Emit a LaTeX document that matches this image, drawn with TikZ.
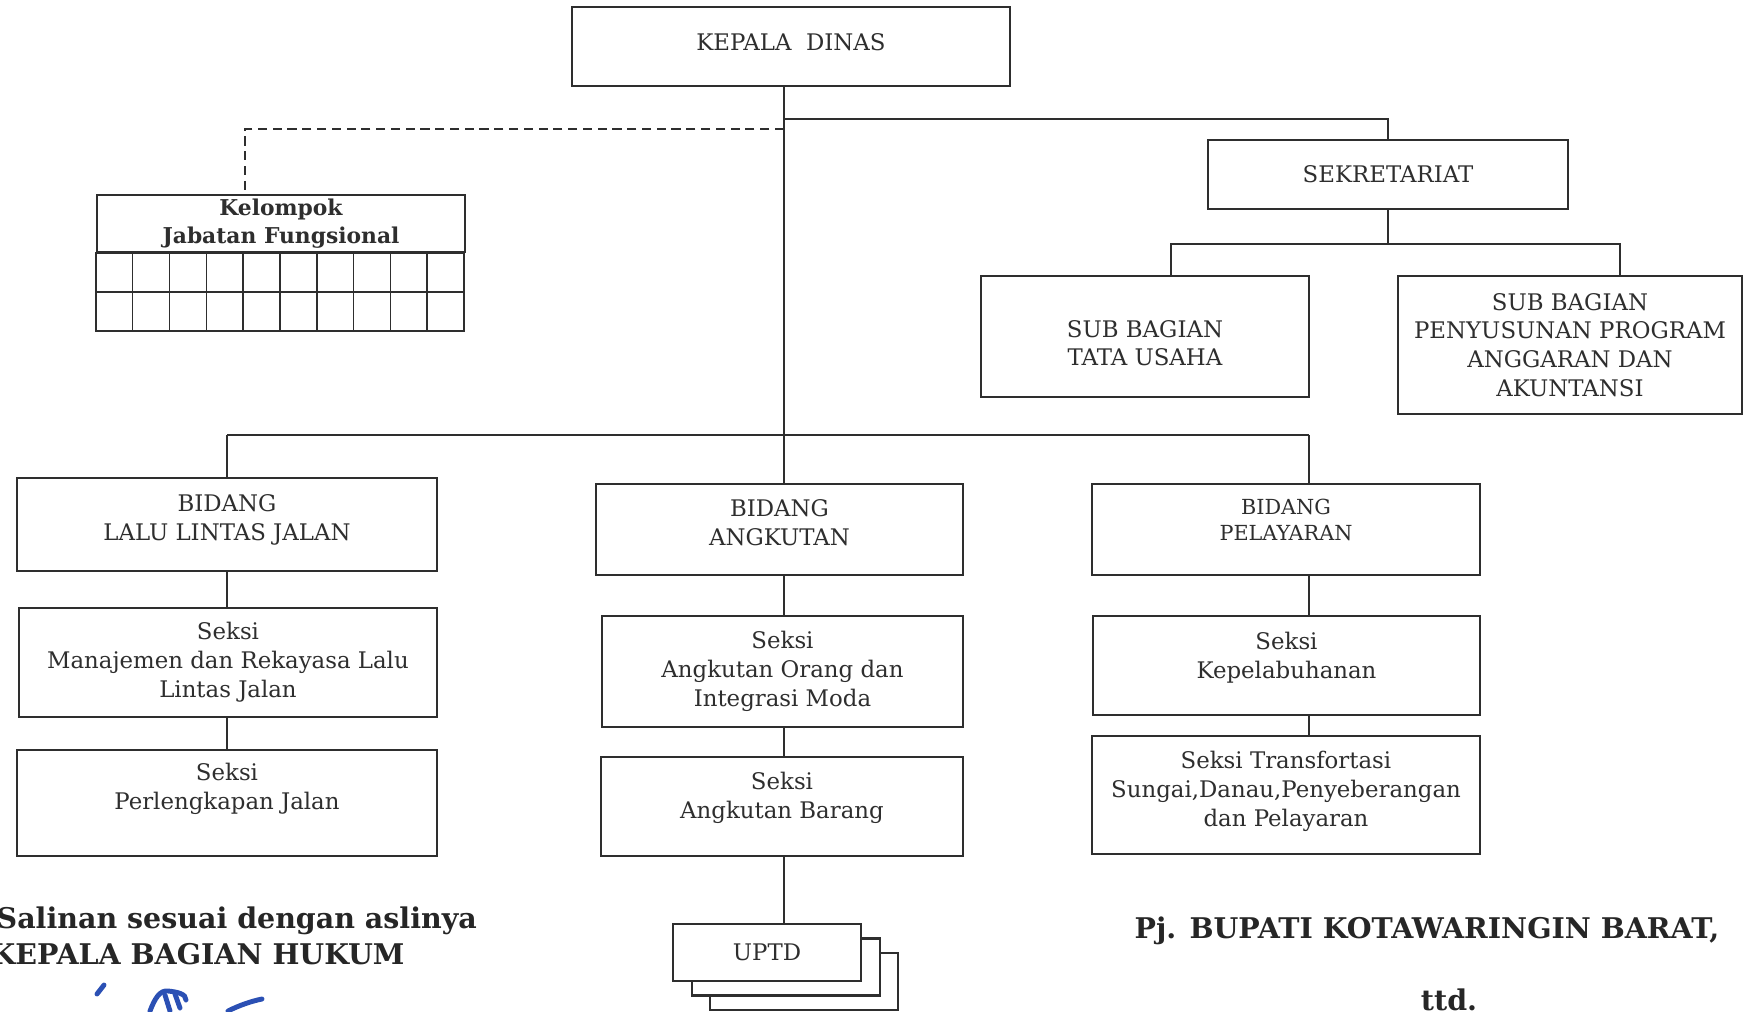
\documentclass[tikz,border=0pt]{standalone}
\usepackage{fontspec}
\setmainfont{DejaVu Serif}
\usepackage{tikz}
\usetikzlibrary{positioning, calc}
\definecolor{inkgray}{HTML}{2E2E2E}
\definecolor{signblue}{HTML}{2B50B4}
\tikzset{
	orgbox/.style={
			draw=inkgray,
			line width=0.75pt,
			fill=white,
			align=center,
			inner sep=0pt,
			text=inkgray,
			font=\fontsize{6.5}{8.2}\selectfont
		},
	smallbox/.style={
			orgbox,
			font=\fontsize{5.9}{7.3}\selectfont
		},
	fungbox/.style={
			orgbox,
			line width=0.6pt,
			font=\fontsize{6.2}{7.9}\bfseries\selectfont
		},
	gridline/.style={
			draw=inkgray,
			line width=0.45pt
		},
	textup/.style={
			text depth=#1
		},
	link/.style={
			draw=inkgray,
			line width=0.6pt
		},
	dashlink/.style={
			link,
			dash pattern=on 2.6pt off 1.6pt
		},
	signtext/.style={
			inner sep=0pt,
			text=black!85,
			font=\fontsize{8.1}{9.5}\bfseries\selectfont
		},
	signink/.style={
			draw=signblue,
			line width=1.4pt,
			line cap=round
		}
}

\begin{document}
\begin{tikzpicture}[x=0.01cm, y=-0.01cm]
				\useasboundingbox (0,0) rectangle (1744,1011);

				\node[orgbox, textup=0.08cm, minimum width=4.38cm, minimum height=0.79cm] (kadis) at (791,46.5) {KEPALA\ \ DINAS};
				\node[orgbox, minimum width=3.60cm, minimum height=0.69cm] (sekre) at (1388,174.5) {SEKRETARIAT};
				\node[orgbox, text height=0.59cm, minimum width=3.28cm, minimum height=1.21cm] (tu) at (1145,336.5) {SUB BAGIAN\\TATA USAHA};
				\node[orgbox, minimum width=3.44cm, minimum height=1.38cm] (ppa) at (1570,345) {SUB BAGIAN\\PENYUSUNAN PROGRAM\\ANGGARAN DAN\\AKUNTANSI};

				\node[fungbox, minimum width=3.68cm, minimum height=0.57cm] (kel) at (281,223.5) {Kelompok\\Jabatan Fungsional};
				\draw[gridline] (kel.south west) rectangle +(368,78);
				\draw[gridline] (kel.south west) ++(0,39) -- +(368,0);
				\foreach \i in {1,...,9}
					\draw[gridline] ([xshift=\i*0.368cm]kel.south west) -- +(0,78);

				\node[orgbox, textup=0.14cm, minimum width=4.20cm, minimum height=0.93cm] (llaj) at (227,524.5) {BIDANG\\LALU LINTAS JALAN};
				\node[orgbox, minimum width=4.18cm, minimum height=1.09cm] (mrll) at (228,662.5) {Seksi\\Manajemen dan Rekayasa Lalu\\Lintas Jalan};
				\node[orgbox, textup=0.34cm, minimum width=4.20cm, minimum height=1.06cm] (perl) at (227,803) {Seksi\\Perlengkapan Jalan};

				\node[orgbox, textup=0.14cm, minimum width=3.67cm, minimum height=0.91cm] (angk) at (779.5,529.5) {BIDANG\\ANGKUTAN};
				\node[orgbox, minimum width=3.61cm, minimum height=1.11cm] (aoim) at (782.5,671.5) {Seksi\\Angkutan Orang dan\\Integrasi Moda};
				\node[orgbox, textup=0.22cm, minimum width=3.62cm, minimum height=0.99cm] (ab) at (782,806.5) {Seksi\\Angkutan Barang};

				\node[smallbox, textup=0.2cm, minimum width=3.88cm, minimum height=0.91cm] (pel) at (1286,529.5) {BIDANG\\PELAYARAN};
				\node[orgbox, textup=0.2cm, minimum width=3.87cm, minimum height=0.99cm] (kep) at (1286.5,665.5) {Seksi\\Kepelabuhanan};
				\node[orgbox, textup=0.12cm, minimum width=3.88cm, minimum height=1.18cm] (trans) at (1286,795) {Seksi Transfortasi\\Sungai,Danau,Penyeberangan\\dan Pelayaran};

				\node[orgbox, minimum width=1.88cm, minimum height=0.57cm] (uptdc) at (804,981.5) {};
				\node[orgbox, minimum width=1.88cm, minimum height=0.57cm] (uptdb) at (786,967) {};
				\node[orgbox, minimum width=1.88cm, minimum height=0.57cm] (uptd) at (767,952.5) {UPTD};

				\coordinate (trunk) at (784,435);
				\coordinate (jsek) at (784,119);
				\coordinate (jfung) at (784,129);
				\coordinate (jsub) at (1388,244);
				\coordinate (lbus) at (227,435);
				\coordinate (pbus) at (1309,435);

				\draw[link] (kadis.south -| trunk) -- (trunk);
				\draw[link] (jsek) -| (sekre.north);
				\draw[dashlink] (jfung) -| ([xshift=-0.36cm]kel.north);
				\draw[link] (sekre.south) -- (jsub);
				\draw[link] ([xshift=0.26cm]tu.north) |- (jsub) -| ([xshift=0.5cm]ppa.north);

				\draw[link] (lbus) -- (pbus);
				\draw[link] (lbus) -- (llaj.north);
				\draw[link] (trunk) -- (angk.north -| trunk);
				\draw[link] (pbus) -- (pel.north -| pbus);

				\draw[link] (llaj.south) -- (llaj.south |- mrll.north);
				\draw[link] (mrll.south -| llaj.south) -- (llaj.south |- perl.north);
				\draw[link] (angk.south -| trunk) -- (aoim.north -| trunk);
				\draw[link] (aoim.south -| trunk) -- (ab.north -| trunk);
				\draw[link] (ab.south -| trunk) -- (uptd.north -| trunk);
				\draw[link] (pel.south -| pbus) -- (kep.north -| pbus);
				\draw[link] (kep.south -| pbus) -- (trans.north -| pbus);

				\node[signtext, anchor=base west] (salinan) at (-4,928) {Salinan sesuai dengan aslinya};
				\node[signtext, anchor=base west] (kabag) at (-10,964) {KEPALA BAGIAN HUKUM};
				\node[signtext, anchor=base west] (bupati) at (1134,938) {Pj. BUPATI KOTAWARINGIN BARAT,};
				\node[signtext, anchor=base] (ttd) at (1449,1010) {ttd.};

				\draw[signink] (97,994) -- (104,985);
				\draw[signink] (150,1011) .. controls (155,998) and (160,990) .. (168,991) .. controls (178,992) and (186,994) .. (186,1000);
				\draw[signink] (165,995) -- (170,1011);
				\draw[signink] (175,994) -- (180,1008);
				\draw[signink] (228,1011) .. controls (240,1005) and (252,1001) .. (262,999);
			\end{tikzpicture}
\end{document}
